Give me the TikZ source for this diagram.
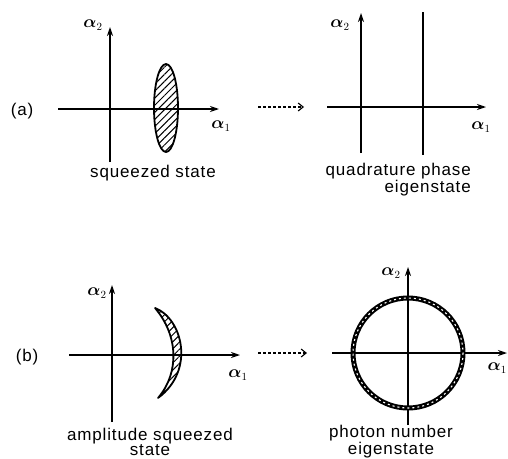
\documentclass[tikz,border=0pt]{standalone}
\usepackage{fontspec}
\usepackage{amsmath}
\setmainfont[LetterSpace=5]{Liberation Sans}
\usetikzlibrary{arrows.meta,patterns.meta}
\begin{document}
\begin{tikzpicture}[x=1pt,y=-1pt,
  axis/.style={line width=1.3pt,-{Stealth[length=9pt,width=6pt]}},
  plain/.style={line width=1.3pt},
  jump/.style={line width=1.1pt,dash pattern=on 3pt off 2pt,-{Straight Barb[length=5pt,width=8pt]}},
  hatch/.style={line width=1.8pt,pattern={Lines[angle=45,distance=5pt,line width=1pt]}},
  lbl/.style={font=\fontsize{17}{15.5}\selectfont,inner sep=0pt,align=center},
  coord/.style={font=\fontsize{16}{18}\selectfont,inner sep=0pt}]
  \useasboundingbox (0,0) rectangle (508,458);
  % (a) squeezed state
  \node[lbl] (la) at (22,111) {(a)};
  \coordinate (a2s) at (110,162); \coordinate (a2e) at (110,27);
  \coordinate (a1s) at (58,109); \coordinate (a1e) at (219,109);
  \draw[axis] (a2s)--(a2e);
  \draw[axis] (a1s)--(a1e);
  \node[coord] (ya) at (93,25) {$\boldsymbol{\alpha}_2$};
  \node[coord] (xa) at (221,126) {$\boldsymbol{\alpha}_1$};
  \draw[hatch] (166,108) ellipse [x radius=12,y radius=44];
  \node[lbl] (sq) at (153,173) {squeezed state};
  % (a) quadrature phase eigenstate
  \coordinate (d1s) at (258,107); \coordinate (d1e) at (304,107);
  \draw[jump] (d1s)--(d1e);
  \coordinate (b2s) at (361,153); \coordinate (b2e) at (361,13);
  \coordinate (b1s) at (327,107); \coordinate (b1e) at (486,107);
  \coordinate (qt) at (423,12); \coordinate (qb) at (423,155);
  \draw[axis] (b2s)--(b2e);
  \draw[axis] (b1s)--(b1e);
  \draw[plain] (qt)--(qb);
  \node[coord] (yb) at (340,25) {$\boldsymbol{\alpha}_2$};
  \node[coord] (xb) at (481,127) {$\boldsymbol{\alpha}_1$};
  \node[lbl,align=right,anchor=east] (qp) at (471,180) {quadrature phase\\eigenstate};
  % (b) amplitude squeezed state
  \node[lbl] (lb) at (27,357) {(b)};
  \coordinate (c2s) at (112,422); \coordinate (c2e) at (112,285);
  \coordinate (c1s) at (69,355); \coordinate (c1e) at (240,355);
  \draw[axis] (c2s)--(c2e);
  \draw[axis] (c1s)--(c1e);
  \node[coord] (yc) at (97,293) {$\boldsymbol{\alpha}_2$};
  \node[coord] (xc) at (238,375) {$\boldsymbol{\alpha}_1$};
  \draw[hatch,line join=round] (155,308) .. controls (182,318) and (196,370) .. (158,398)
    .. controls (180,372) and (178,335) .. cycle;
  \node[lbl] (am) at (150,442) {amplitude squeezed\\state};
  % (b) photon number eigenstate
  \coordinate (d2s) at (258,353); \coordinate (d2e) at (307,353);
  \draw[jump] (d2s)--(d2e);
  \coordinate (e2s) at (408,425); \coordinate (e2e) at (408,267);
  \coordinate (e1s) at (332,353); \coordinate (e1e) at (507,353);
  \draw[axis] (e2s)--(e2e);
  \draw[axis] (e1s)--(e1e);
  \coordinate (o) at (408,353);
  \draw[line width=5pt] (o) circle [radius=55];
  \draw[white,line width=1.1pt,dash pattern=on 2pt off 3pt] (o) circle [radius=55];
  \node[coord] (yd) at (391,273) {$\boldsymbol{\alpha}_2$};
  \node[coord,anchor=east] (xd) at (507,368) {$\boldsymbol{\alpha}_1$};
  \node[lbl] (pn) at (391,442) {photon number\\eigenstate};
\end{tikzpicture}
\end{document}
